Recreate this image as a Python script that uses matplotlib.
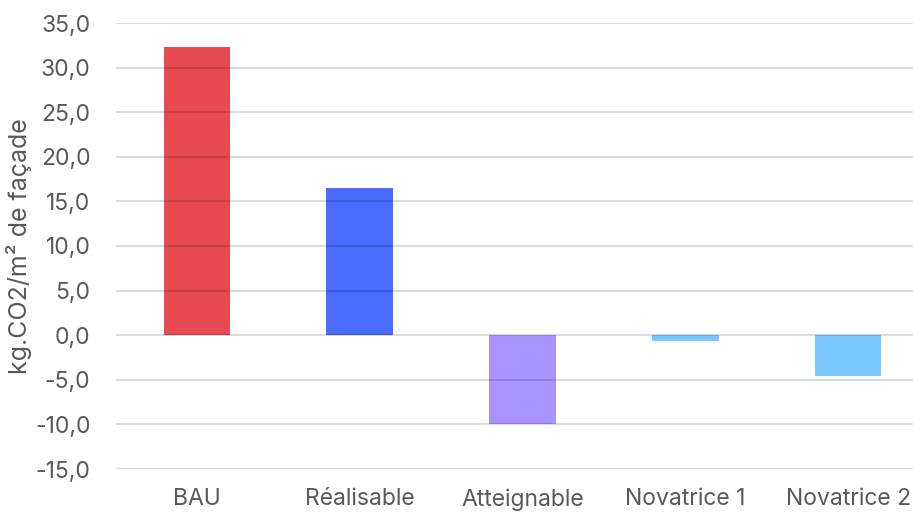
import matplotlib.pyplot as plt
from matplotlib.ticker import FuncFormatter, MultipleLocator

categories = ["BAU", "Réalisable", "Atteignable", "Novatrice 1", "Novatrice 2"]
values = [32.3, 16.5, -10.0, -0.7, -4.6]
colors = ["#E84A4F", "#4A6CFF", "#A993FF", "#78C8FF", "#78C8FF"]

plt.rcParams['font.family'] = ['Inter', 'DejaVu Sans']

fig = plt.figure(figsize=(9.13, 5.13), dpi=100)
ax = fig.add_axes([115.5 / 913, 44 / 513, 814 / 913, 446 / 513])

x = range(len(categories))
ax.bar(x, values, width=0.41, color=colors, zorder=1)

ax.set_xlim(-0.5, len(categories) - 0.5)
ax.set_ylim(-15, 35)
ax.yaxis.set_major_locator(MultipleLocator(5))
ax.yaxis.set_major_formatter(FuncFormatter(lambda v, p: f"{v:.1f}".replace(".", ",")))
ax.grid(axis='y', color='black', alpha=0.14, linewidth=1.5, zorder=3)
ax.set_axisbelow(False)

ax.set_xticks(list(x))
ax.set_xticklabels(categories)
ax.tick_params(axis='both', length=0, labelsize=16.5, labelcolor='#595959')
ax.tick_params(axis='y', pad=18)
ax.tick_params(axis='x', pad=14)
for s in ax.spines.values():
    s.set_visible(False)

ax.set_ylabel("kg.CO2/m² de façade", fontsize=18, color='#595959', labelpad=2)

fig.savefig("out.png", dpi=100)
